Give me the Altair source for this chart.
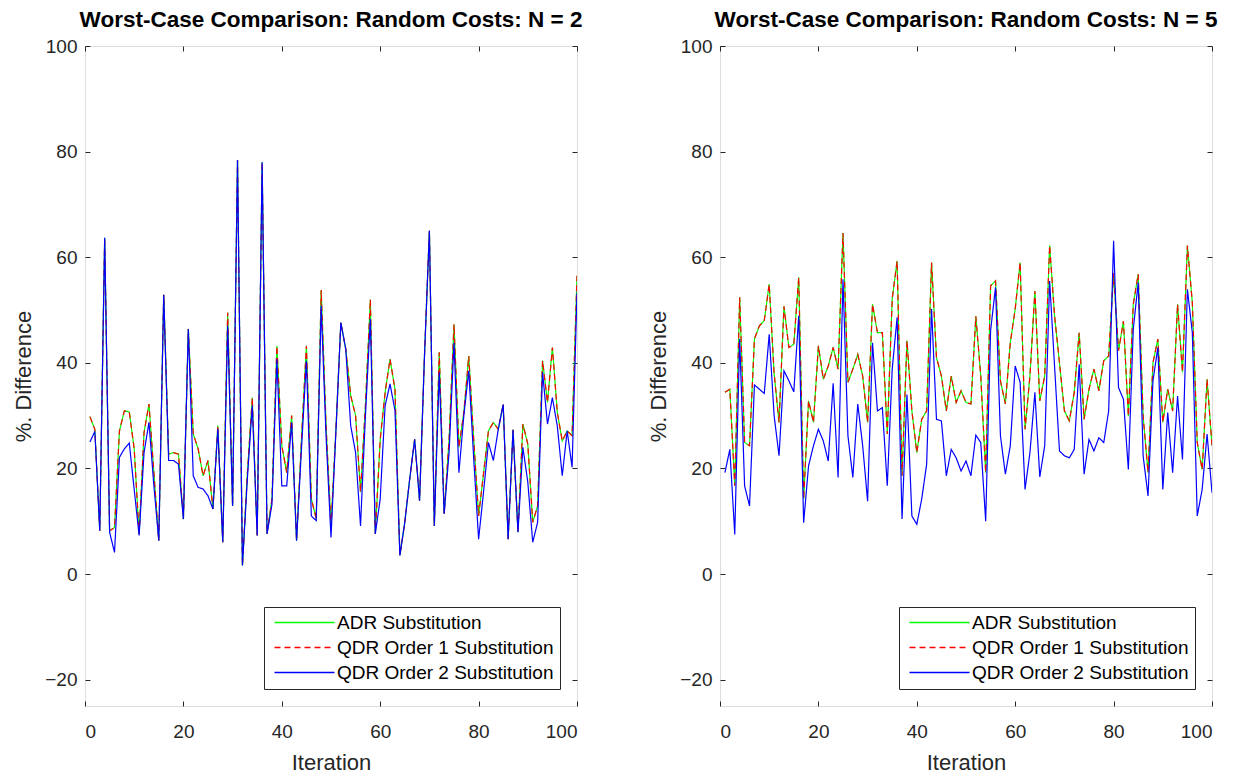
import altair as alt
import pandas as pd

iters = list(range(1, 101))

# ---- N = 2 panel ----
n2_adr = [29.8, 27.4, 8.2, 63.7, 8.2, 8.8, 27.1, 30.9, 30.7, 23.7,
          7.6, 26.8, 32.2, 19.2, 6.3, 52.9, 22.7, 23.0, 22.7, 10.4,
          46.4, 26.5, 23.7, 18.6, 21.5, 12.3, 28.1, 6.0, 49.5, 12.9,
          78.4, 1.6, 19.0, 33.4, 7.3, 78.0, 7.6, 14.2, 43.2, 24.3,
          19.2, 30.0, 6.3, 25.5, 43.2, 14.2, 10.5, 53.8, 28.0, 9.0,
          27.4, 47.6, 42.6, 33.8, 30.0, 15.5, 31.9, 52.0, 7.6, 25.5,
          34.4, 40.7, 35.0, 3.5, 9.8, 18.0, 25.5, 13.9, 41.3, 65.0,
          9.1, 42.0, 11.4, 25.5, 47.3, 24.0, 30.6, 41.3, 25.5, 11.0,
          19.0, 27.1, 28.7, 27.4, 32.1, 6.6, 27.3, 7.9, 28.4, 24.6,
          9.8, 12.9, 40.4, 32.5, 42.9, 30.6, 25.2, 27.1, 26.2, 56.5]
n2_qdr1 = [29.8, 27.4, 8.2, 63.7, 8.2, 8.8, 27.1, 30.9, 30.7, 23.7,
           7.6, 26.8, 32.2, 19.2, 6.3, 52.9, 22.7, 23.0, 22.7, 10.4,
           46.4, 26.5, 23.7, 18.6, 21.5, 12.3, 28.1, 6.0, 49.5, 12.9,
           78.4, 1.6, 19.0, 33.4, 7.3, 78.0, 7.6, 14.2, 43.2, 24.3,
           19.2, 30.0, 6.3, 25.5, 43.2, 14.2, 10.5, 53.8, 28.0, 9.0,
           27.4, 47.6, 42.6, 33.8, 30.0, 15.5, 31.9, 52.0, 7.6, 25.5,
           34.4, 40.7, 35.0, 3.5, 9.8, 18.0, 25.5, 13.9, 41.3, 65.0,
           9.1, 42.0, 11.4, 25.5, 47.3, 24.0, 30.6, 41.3, 25.5, 11.0,
           19.0, 27.1, 28.7, 27.4, 32.1, 6.6, 27.3, 7.9, 28.4, 24.6,
           9.8, 12.9, 40.4, 32.5, 42.9, 30.6, 25.2, 27.1, 26.2, 56.5]
n2_qdr2 = [25.0, 27.0, 8.2, 63.7, 7.9, 4.1, 22.1, 23.7, 24.8, 16.0,
           7.3, 23.0, 28.7, 16.7, 6.3, 52.9, 21.5, 21.5, 20.8, 10.4,
           46.4, 18.6, 16.4, 16.1, 14.8, 12.3, 27.5, 6.0, 47.0, 12.9,
           78.4, 1.6, 18.0, 31.9, 7.3, 78.0, 7.6, 13.2, 40.7, 16.7,
           16.7, 28.7, 6.3, 23.7, 40.4, 11.0, 10.1, 50.8, 26.0, 6.9,
           27.0, 47.6, 42.6, 28.1, 23.0, 9.1, 30.0, 48.3, 7.6, 14.2,
           31.9, 36.0, 31.0, 3.5, 9.8, 18.0, 25.5, 13.9, 41.3, 65.0,
           9.1, 38.2, 11.4, 23.0, 43.8, 19.2, 30.0, 38.5, 22.0, 6.6,
           15.5, 24.9, 21.5, 27.4, 32.1, 6.6, 27.3, 7.9, 24.0, 17.4,
           6.0, 9.8, 38.2, 28.4, 33.4, 28.0, 18.6, 27.1, 20.2, 53.3]

# ---- N = 5 panel ----
n5_adr = [34.4, 35.0, 16.7, 52.4, 24.9, 24.3, 44.5, 47.0, 48.0, 54.9,
          38.0, 28.7, 50.7, 42.9, 43.5, 56.2, 14.2, 32.8, 28.7, 43.2,
          36.9, 39.4, 42.9, 38.8, 64.6, 36.3, 38.8, 41.6, 37.5, 28.7,
          51.1, 45.7, 45.7, 26.5, 52.1, 59.3, 18.6, 44.2, 30.9, 23.0,
          29.3, 30.9, 59.0, 41.0, 37.5, 30.9, 37.5, 32.5, 34.7, 32.5,
          32.2, 48.8, 37.5, 19.2, 54.6, 55.5, 36.6, 32.2, 43.8, 50.2,
          59.0, 27.4, 37.5, 53.6, 32.8, 37.5, 62.2, 48.9, 40.0, 30.9,
          29.0, 34.4, 45.7, 29.3, 35.0, 38.8, 34.7, 40.4, 41.3, 57.0,
          42.3, 47.9, 29.9, 51.1, 56.8, 29.9, 19.2, 40.0, 44.5, 28.7,
          35.0, 30.9, 51.1, 38.2, 62.2, 51.4, 24.9, 19.8, 36.9, 24.3]
n5_qdr1 = [34.4, 35.0, 16.7, 52.4, 24.9, 24.3, 44.5, 47.0, 48.0, 54.9,
           38.0, 28.7, 50.7, 42.9, 43.5, 56.2, 14.2, 32.8, 28.7, 43.2,
           36.9, 39.4, 42.9, 38.8, 64.6, 36.3, 38.8, 41.6, 37.5, 28.7,
           51.1, 45.7, 45.7, 26.5, 52.1, 59.3, 18.6, 44.2, 30.9, 23.0,
           29.3, 30.9, 59.0, 41.0, 37.5, 30.9, 37.5, 32.5, 34.7, 32.5,
           32.2, 48.8, 37.5, 19.2, 54.6, 55.5, 36.6, 32.2, 43.8, 50.2,
           59.0, 27.4, 37.5, 53.6, 32.8, 37.5, 62.2, 48.9, 40.0, 30.9,
           29.0, 34.4, 45.7, 29.3, 35.0, 38.8, 34.7, 40.4, 41.3, 57.0,
           42.3, 47.9, 29.9, 51.1, 56.8, 29.9, 19.2, 40.0, 44.5, 28.7,
           35.0, 30.9, 51.1, 38.2, 62.2, 51.4, 24.9, 19.8, 36.9, 24.3]
n5_qdr2 = [19.2, 23.6, 7.5, 44.5, 16.7, 12.9, 35.8, 35.0, 34.2, 45.4,
           30.0, 22.4, 38.5, 36.6, 34.5, 48.9, 9.7, 20.5, 24.3, 27.4,
           25.2, 21.4, 36.1, 18.3, 55.8, 26.2, 18.3, 32.2, 24.3, 13.8,
           43.8, 30.9, 31.5, 16.7, 38.8, 48.6, 10.4, 34.0, 11.0, 9.4,
           14.2, 20.8, 50.2, 29.3, 29.0, 18.6, 23.6, 22.0, 19.5, 21.4,
           18.6, 26.3, 24.9, 10.0, 46.1, 54.3, 26.2, 18.9, 24.3, 39.4,
           36.3, 16.0, 23.0, 34.4, 18.4, 24.3, 55.5, 39.4, 23.3, 22.4,
           22.0, 23.6, 39.7, 18.9, 25.5, 23.3, 25.8, 24.9, 30.9, 63.1,
           35.3, 33.1, 19.8, 46.4, 55.2, 22.4, 14.8, 36.6, 42.9, 16.0,
           30.6, 19.2, 33.7, 21.7, 53.9, 45.7, 11.0, 16.0, 26.5, 15.4]

series_names = ["ADR Substitution", "QDR Order 1 Substitution", "QDR Order 2 Substitution"]
series_colors = ["#00ff00", "#ff0000", "#0000ff"]
series_dashes = [[1, 0], [6, 4], [1, 0]]

x_ticks = [0, 20, 40, 60, 80, 100]
y_ticks = [-20, 0, 20, 40, 60, 80, 100]

FONT = "Liberation Sans"
TXT = "#262626"


def build_df(adr, q1, q2):
    rows = []
    for name, vals in zip(series_names, [adr, q1, q2]):
        for i, v in zip(iters, vals):
            rows.append({"iter": i, "value": v, "series": name})
    return pd.DataFrame(rows)


def make_legend():
    return alt.Legend(
        title=None,
        orient="bottom-right",
        offset=17,
        strokeColor="#262626",
        fillColor="white",
        padding=6,
        symbolType="M-1,0H11",
        symbolSize=100,
        symbolStrokeWidth=1.5,
        labelFont=FONT,
        labelFontSize=19,
        labelColor="black",
        labelOffset=48,
        labelLimit=500,
        rowPadding=5,
    )


def panel(adr, q1, q2, title):
    df = build_df(adr, q1, q2)
    xs = alt.Scale(domain=[0, 100], nice=False, zero=False)
    ys = alt.Scale(domain=[-25, 100], nice=False, zero=False)
    lines = alt.Chart(df).mark_line(strokeWidth=1.2, clip=True).encode(
        x=alt.X("iter:Q", scale=xs, title="Iteration",
                axis=alt.Axis(orient="bottom", values=x_ticks, offset=-5, tickSize=5,
                              domain=False, grid=False, labelFont=FONT, labelFontSize=19,
                              labelColor=TXT, tickColor=TXT, labelPadding=16,
                              titleFont=FONT, titleFontSize=22, titleFontWeight="normal",
                              titleColor=TXT, titlePadding=11)),
        y=alt.Y("value:Q", scale=ys, title="%. Difference",
                axis=alt.Axis(orient="left", values=y_ticks, offset=-5, tickSize=5,
                              domain=False, grid=False, labelFont=FONT, labelFontSize=19,
                              labelColor=TXT, tickColor=TXT, labelPadding=8,
                              titleFont=FONT, titleFontSize=22, titleFontWeight="normal",
                              titleColor=TXT, titlePadding=9)),
        color=alt.Color("series:N", scale=alt.Scale(domain=series_names, range=series_colors),
                        legend=make_legend()),
        strokeDash=alt.StrokeDash("series:N", scale=alt.Scale(domain=series_names, range=series_dashes),
                                  legend=None),
    )
    frame = alt.Chart(df).mark_point(opacity=0).encode(
        x=alt.X("iter:Q", scale=xs, title=None,
                axis=alt.Axis(orient="top", values=x_ticks, offset=-5, tickSize=5,
                              domain=False, grid=False, labels=False, tickColor=TXT)),
        y=alt.Y("value:Q", scale=ys, title=None,
                axis=alt.Axis(orient="right", values=y_ticks, offset=-5, tickSize=5,
                              domain=False, grid=False, labels=False, tickColor=TXT)),
    )
    return alt.layer(lines, frame).resolve_axis(x="independent", y="independent").properties(
        width=492, height=660,
        title=alt.Title(title, font=FONT, fontSize=22.5, fontWeight="bold", color="black",
                        anchor="middle", offset=6),
    )


left = panel(n2_adr, n2_qdr1, n2_qdr2, "Worst-Case Comparison: Random Costs: N = 2")
right = panel(n5_adr, n5_qdr1, n5_qdr2, "Worst-Case Comparison: Random Costs: N = 5")

chart = alt.hconcat(left, right, spacing=64).resolve_scale(
    color="independent", strokeDash="independent"
).configure_view(stroke="#262626", strokeWidth=1).configure(background="white").properties(
    padding={"left": 4, "right": 0, "top": 0, "bottom": 2}
)


# per-entry stroke colour and dash pattern for the legend symbols, taken from the series lists
def pick_expr(values):
    out = None
    for name, val in reversed(list(zip(series_names, values))):
        lit = ("'%s'" % val) if isinstance(val, str) else str(val)
        out = lit if out is None else "datum.value === '%s' ? %s : %s" % (name, lit, out)
    return out


legend_encode = {"symbols": {"update": {
    "stroke": {"signal": pick_expr(series_colors)},
    "strokeDash": {"signal": pick_expr(series_dashes)},
    "fill": {"value": "transparent"},
    "opacity": {"value": 1},
}}}
patch = [
    {"op": "add", "path": "/marks/0/legends/0/encode", "value": legend_encode},
    {"op": "add", "path": "/marks/1/legends/0/encode", "value": legend_encode},
]

chart.save("out.html", embed_options={"renderer": "svg", "actions": False, "patch": patch})
